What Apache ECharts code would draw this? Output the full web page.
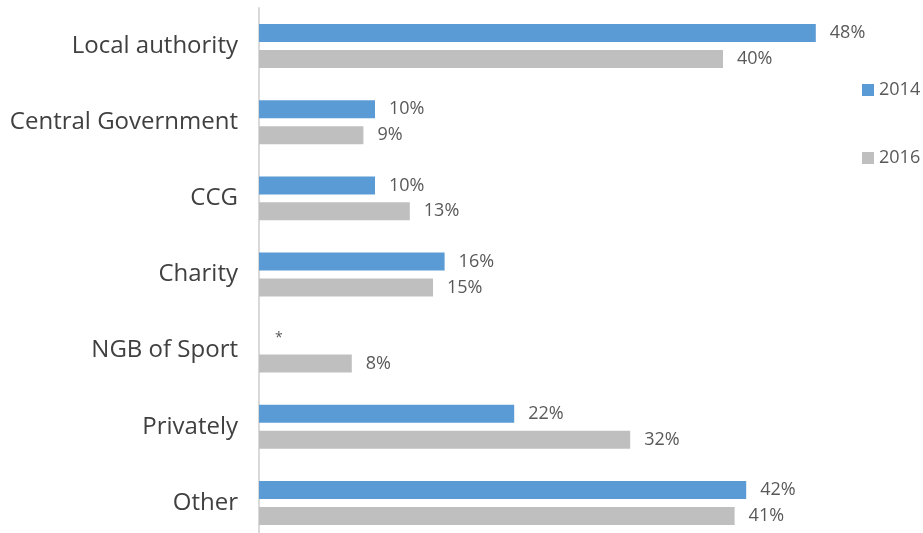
<!DOCTYPE html>
<html>
<head>
<meta charset="utf-8">
<script src="https://cdn.jsdelivr.net/npm/echarts@6/dist/echarts.min.js"></script>
<style>
  html, body { margin: 0; padding: 0; background: #fff; overflow: hidden; }
  #chart { width: 923px; height: 545px; }
</style>
</head>
<body>
<div id="chart"></div>
<script>
// Funding sources, share of respondents (%)
const categories = ['Local authority', 'Central Government', 'CCG', 'Charity', 'NGB of Sport', 'Privately', 'Other'];
const seriesNames = ['2014', '2016'];
// null = not asked / shown as "*"
const values2014 = [48, 10, 10, 16, null, 22, 42];
const values2016 = [40, 9, 13, 15, 8, 32, 41];

const FONT = '"Open Sans", "Noto Sans", sans-serif';

function toData(values) {
  return values.map(v => v === null
    ? { value: 0, label: { formatter: '*', fontSize: 14, offset: [2, 0] } }
    : v);
}

const valueLabel = {
  show: true,
  position: 'right',
  distance: 14,
  fontSize: 18,
  color: '#595959',
  fontFamily: FONT,
  formatter: '{c}%'
};

const chart = echarts.init(document.getElementById('chart'));
chart.setOption({
  animation: false,
  textStyle: { fontFamily: FONT },
  grid: { left: 259, top: 8, width: 580, height: 533 },
  legend: {
    orient: 'vertical',
    left: 862,
    top: 81,
    padding: 0,
    itemWidth: 12,
    itemHeight: 12,
    itemGap: 50,
    icon: 'rect',
    textStyle: { fontSize: 18, color: '#595959', fontFamily: FONT },
    data: seriesNames
  },
  xAxis: {
    type: 'value',
    min: 0,
    max: 50,
    show: false,
    splitLine: { show: false }
  },
  yAxis: {
    type: 'category',
    inverse: true,
    data: categories,
    axisLine: { show: true, lineStyle: { color: '#d9d9d9', width: 2 } },
    axisTick: { show: false },
    axisLabel: { fontSize: 24, color: '#404040', margin: 21, fontFamily: FONT, padding: [4, 0, 0, 0] }
  },
  series: [
    {
      name: seriesNames[0],
      type: 'bar',
      data: toData(values2014),
      barWidth: 18,
      barGap: '44%',
      itemStyle: { color: '#5b9bd5' },
      label: valueLabel
    },
    {
      name: seriesNames[1],
      type: 'bar',
      data: toData(values2016),
      barWidth: 18,
      barGap: '44%',
      itemStyle: { color: '#bfbfbf' },
      label: valueLabel
    }
  ]
});
</script>
</body>
</html>
